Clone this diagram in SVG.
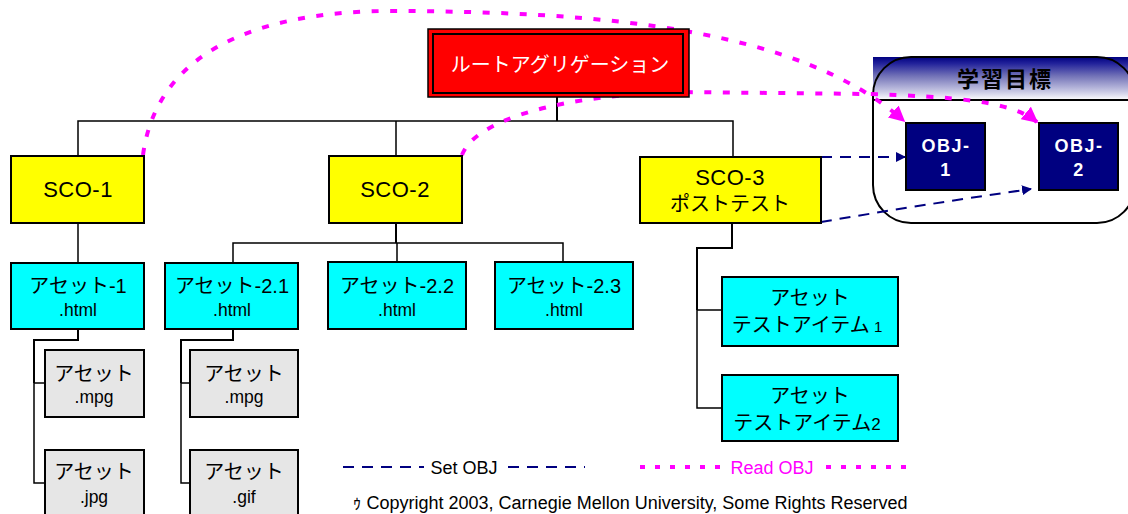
<svg xmlns="http://www.w3.org/2000/svg" width="1128" height="514" viewBox="0 0 1128 514">
<style>
  text { font-family: 'Liberation Sans', 'Noto Sans CJK JP', sans-serif; fill: #000; text-anchor: middle; }
  .box { stroke: #000; stroke-width: 2; }
  .sco { fill: #FFFF00; }
  .asset { fill: #00FFFF; }
  .gray { fill: #E6E6E6; }
  .obj { fill: #000080; stroke: #000; stroke-width: 2; }
  .jp { font-size: 20px; }
  .lat { font-size: 22px; letter-spacing: 0.5px; }
  .ext { font-size: 17.5px; }
  .tree { fill: none; stroke: #000; stroke-width: 2; }
  .tree-thin { fill: none; stroke: #000; stroke-width: 1.5; }
  .set { fill: none; stroke: #000080; stroke-width: 2; stroke-dasharray: 11 8; }
  .read { fill: none; stroke: #FF00FF; stroke-width: 4; stroke-dasharray: 7 11.5; }
  .readleg { fill: none; stroke: #FF00FF; stroke-width: 4; stroke-dasharray: 5 10; }
  .objtxt { fill: #fff; font-size: 18px; font-weight: bold; letter-spacing: 1.5px; }
  .leg { font-size: 18px; }
</style>
<defs>
  <linearGradient id="hdr" x1="0" y1="0" x2="0" y2="1">
    <stop offset="0" stop-color="#000080"/>
    <stop offset="0.15" stop-color="#22229a"/>
    <stop offset="0.45" stop-color="#7474b8"/>
    <stop offset="0.8" stop-color="#c8c8e4"/>
    <stop offset="1" stop-color="#ffffff"/>
  </linearGradient>
  <marker id="arrN" viewBox="0 0 10 10" refX="9" refY="5" markerWidth="10" markerHeight="10" markerUnits="userSpaceOnUse" orient="auto">
    <path d="M0,0 L10,5 L0,10 Z" fill="#000080"/>
  </marker>
  <marker id="arrM" viewBox="0 0 10 10" refX="9" refY="5" markerWidth="16" markerHeight="16" markerUnits="userSpaceOnUse" orient="auto">
    <path d="M0,0 L10,5 L0,10 Z" fill="#FF00FF"/>
  </marker>
</defs>

<!-- Objectives panel -->
<g id="objectives">
  <rect x="873" y="57" width="255" height="43" fill="url(#hdr)"/>
  <rect x="873" y="57" width="262" height="166" rx="38" ry="38" fill="none" stroke="#000" stroke-width="2"/>
  <line x1="873" y1="100" x2="1128" y2="100" stroke="#000" stroke-width="2"/>
  <text x="1005" y="87" style="font-size:22px;font-weight:bold;letter-spacing:2px">学習目標</text>
</g>
<g id="obj1">
  <rect class="obj" x="906" y="123" width="79" height="67"/>
  <text class="objtxt" x="946" y="152">OBJ-</text>
  <text class="objtxt" x="946" y="176">1</text>
</g>
<g id="obj2">
  <rect class="obj" x="1039" y="123" width="79" height="67"/>
  <text class="objtxt" x="1079" y="152">OBJ-</text>
  <text class="objtxt" x="1079" y="176">2</text>
</g>

<!-- Tree connectors -->
<g id="connectors">
  <path class="tree" d="M557,97 V121"/>
  <path class="tree-thin" d="M78,156 V121 H733 V156 M396,121 V156"/>
  <path class="tree-thin" d="M78,223 V262"/>
  <path class="tree" d="M396,223 V243"/>
  <path class="tree-thin" d="M233,263 V243 H563 V262 M397,243 V262"/>
  <path class="tree" d="M78,329 V340 H34 V383"/>
  <path class="tree-thin" d="M34,383 V483 H45 M34,383 H45"/>
  <path class="tree" d="M233,329 V340 H181 V383"/>
  <path class="tree-thin" d="M181,383 V483 H190 M181,383 H190"/>
  <path class="tree" d="M732,223 V248 H697 V310"/>
  <path class="tree-thin" d="M697,310 H722 M697,310 V408 H722"/>
  <!-- Set OBJ -->
  <path class="set" d="M821,157 H905" marker-end="url(#arrN)"/>
  <path class="set" d="M821,222 Q920,205 1031,189" marker-end="url(#arrN)"/>
  <!-- Read OBJ -->
  <path class="read" d="M143,155 C160,30 300,10 400,11 C600,12 800,28 904,121" marker-end="url(#arrM)"/>
  <path class="read" d="M462,155 C475,120 560,95 680,92 L870,94 C950,97 1010,100 1037,122" marker-end="url(#arrM)"/>
</g>

<!-- Root -->
<g id="root">
  <rect x="428" y="29" width="261" height="68" fill="#FF0000" stroke="#000" stroke-width="1.5"/>
  <rect x="433" y="34" width="250" height="59" fill="none" stroke="#000" stroke-width="2"/>
  <text class="jp" x="560" y="72" style="fill:#fff">ルートアグリゲーション</text>
</g>

<!-- SCOs -->
<g id="sco1">
  <rect class="box sco" x="11" y="156" width="133" height="67"/>
  <text class="lat" x="78" y="197">SCO-1</text>
</g>
<g id="sco2">
  <rect class="box sco" x="329" y="156" width="133" height="67"/>
  <text class="lat" x="395" y="197">SCO-2</text>
</g>
<g id="sco3">
  <rect class="box sco" x="640" y="157" width="181" height="66"/>
  <text class="lat" x="730" y="185">SCO-3</text>
  <text class="jp" x="730" y="211">ポストテスト</text>
</g>

<!-- Assets -->
<g id="asset1">
  <rect class="box asset" x="11" y="263" width="133" height="66"/>
  <text class="jp" x="78" y="293">アセット-1</text>
  <text class="ext" x="78" y="316">.html</text>
</g>
<g id="asset21">
  <rect class="box asset" x="165" y="263" width="133" height="66"/>
  <text class="jp" x="232" y="293">アセット-2.1</text>
  <text class="ext" x="232" y="316">.html</text>
</g>
<g id="asset22">
  <rect class="box asset" x="328" y="262" width="138" height="67"/>
  <text class="jp" x="397" y="293">アセット-2.2</text>
  <text class="ext" x="397" y="316">.html</text>
</g>
<g id="asset23">
  <rect class="box asset" x="495" y="262" width="138" height="67"/>
  <text class="jp" x="564" y="293">アセット-2.3</text>
  <text class="ext" x="564" y="316">.html</text>
</g>

<!-- Sub assets -->
<g id="asset-mpg1">
  <rect class="box gray" x="45" y="350" width="99" height="67"/>
  <text class="jp" x="94" y="381">アセット</text>
  <text class="ext" x="94" y="403">.mpg</text>
</g>
<g id="asset-jpg">
  <rect class="box gray" x="45" y="450" width="99" height="70"/>
  <text class="jp" x="94" y="479">アセット</text>
  <text class="ext" x="94" y="503">.jpg</text>
</g>
<g id="asset-mpg2">
  <rect class="box gray" x="190" y="350" width="108" height="67"/>
  <text class="jp" x="244" y="381">アセット</text>
  <text class="ext" x="244" y="403">.mpg</text>
</g>
<g id="asset-gif">
  <rect class="box gray" x="190" y="450" width="108" height="70"/>
  <text class="jp" x="244" y="479">アセット</text>
  <text class="ext" x="244" y="503">.gif</text>
</g>

<!-- Test items -->
<g id="testitem1">
  <rect class="box asset" x="722" y="277" width="176" height="69"/>
  <text class="jp" x="810" y="305">アセット</text>
  <text class="jp" x="807" y="332">テストアイテム<tspan style="font-size:15px"> 1</tspan></text>
</g>
<g id="testitem2">
  <rect class="box asset" x="722" y="375" width="176" height="66"/>
  <text class="jp" x="810" y="403">アセット</text>
  <text class="jp" x="807" y="430">テストアイテム<tspan style="font-size:17px">2</tspan></text>
</g>

<!-- Legend -->
<g id="legend">
  <path class="set" d="M343,467 H424"/>
  <text class="leg" x="464" y="474">Set OBJ</text>
  <path class="set" d="M508,467 H585"/>
  <path class="readleg" d="M640,467 H722"/>
  <text class="leg" x="772" y="474" style="fill:#FF00FF">Read OBJ</text>
  <path class="readleg" d="M826,467 H912"/>
  <text class="leg" x="630" y="509">ｩ Copyright 2003, Carnegie Mellon University, Some Rights Reserved</text>
</g>
</svg>
